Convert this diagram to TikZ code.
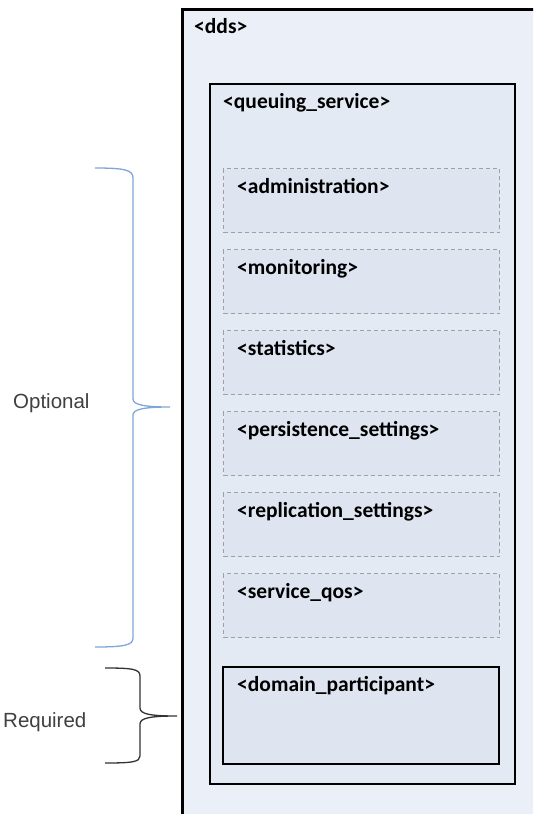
\documentclass[tikz,border=0pt]{standalone}
\usepackage{fontspec}
\setmainfont{Liberation Sans}
\newfontfamily\boxfont{Carlito}
\usetikzlibrary{positioning}
\definecolor{ddsfill}{HTML}{EBF0F8}
\definecolor{qsfill}{HTML}{E4EAF4}
\definecolor{subfill}{HTML}{DEE5F0}
\definecolor{dashgray}{HTML}{A0A0A0}
\definecolor{optblue}{HTML}{7FA6D6}
\definecolor{reqgray}{HTML}{333333}
\definecolor{sidetext}{HTML}{404040}

\begin{document}
\begin{tikzpicture}[
    x=1pt, y=-1pt,
    box/.style={rectangle, draw=black, anchor=north west, inner sep=0pt},
    optbox/.style={box, fill=subfill, draw=dashgray, line width=1pt,
                   dash pattern=on 4pt off 3pt, minimum width=276pt, minimum height=64pt},
    tag/.style={anchor=base west, inner sep=0pt, font=\boxfont\bfseries\fontsize{21.5}{25}\selectfont},
    side/.style={anchor=base west, inner sep=0pt, text=sidetext, font=\fontsize{20.5}{24}\selectfont},
    brace/.style={line width=1.3pt},
]
\clip (0,0) rectangle (533,814);
\fill[white] (0,0) rectangle (533,814);

% dds box
\node[box, fill=ddsfill, line width=3pt, minimum width=450pt, minimum height=900pt] (dds) at (181,8) {};
\node[tag] (dds-tag) at (194,33) {<dds>};

% queuing service box
\node[box, fill=qsfill, line width=2pt, minimum width=305pt, minimum height=700pt] (qs) at (209,83) {};
\node[tag] (qs-tag) at (223,108) {<queuing\_service>};

% optional elements
\node[optbox] (admin) at (223,168) {};
\node[tag] (admin-tag) at (237,193) {<administration>};

\node[optbox] (mon) at (223,249) {};
\node[tag] (mon-tag) at (237,274) {<monitoring>};

\node[optbox] (stats) at (223,330) {};
\node[tag] (stats-tag) at (237,355) {<statistics>};

\node[optbox] (persist) at (223,411) {};
\node[tag] (persist-tag) at (237,436) {<persistence\_settings>};

\node[optbox] (repl) at (223,492) {};
\node[tag] (repl-tag) at (237,517) {<replication\_settings>};

\node[optbox] (qos) at (223,573) {};
\node[tag] (qos-tag) at (237,598) {<service\_qos>};

% required element
\node[box, fill=subfill, line width=2pt, minimum width=276pt, minimum height=97pt] (dp) at (222,666) {};
\node[tag] (dp-tag) at (237,691) {<domain\_participant>};

% Optional brace
\coordinate (opt-tip) at (170,407);
\draw[brace, optblue] (95,168) .. controls (125,168) and (133,170) .. (133,178) -- (133,399)
    .. controls (133,405) and (145,407) .. (opt-tip)
    .. controls (145,407) and (133,409) .. (133,415) -- (133,638)
    .. controls (133,645) and (125,647) .. (95,647);
\node[side] (opt-lbl) at (13,408) {Optional};

% Required brace
\coordinate (req-tip) at (177,716);
\draw[brace, reqgray] (105,668) .. controls (132,668) and (140,669) .. (140,676) -- (140,708)
    .. controls (140,714) and (150,716) .. (req-tip)
    .. controls (150,716) and (140,718) .. (140,724) -- (140,756)
    .. controls (140,762) and (132,763) .. (105,763);
\node[side] (req-lbl) at (3,727) {Required};

\end{tikzpicture}
\end{document}
